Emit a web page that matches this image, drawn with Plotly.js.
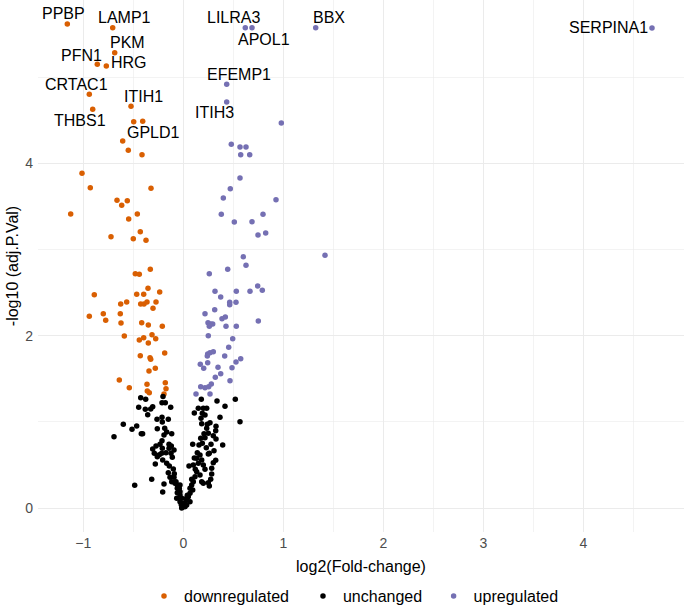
<!DOCTYPE html>
<html>
<head>
<meta charset="utf-8">
<script src="https://cdn.plot.ly/plotly-3.0.1.min.js"></script>
<style>html,body{margin:0;padding:0;background:#fff;}#chart{width:685px;height:607px;}</style>
</head>
<body>
<div id="chart"></div>
<script>
// ---- data ----
const downX = [-1.16,-0.706,-0.686,-0.86,-0.77,-0.94,-0.906,-0.523,-0.406,-0.496,-0.606,-0.55,-0.413,-1.013,-0.93,-0.323,-0.663,-0.56,-0.616,-1.126,-0.46,-0.546,-0.43,-0.723,-0.50,-0.373,-0.33,-0.48,-0.44,-0.353,-0.236,-0.89,-0.466,-0.396,-0.566,-0.626,-0.426,-0.393,-0.363,-0.273,-0.303,-0.94,-0.80,-0.63,-0.776,-0.623,-0.416,-0.35,-0.21,-0.59,-0.313,-0.396,-0.44,-0.276,-0.35,-0.43,-0.333,-0.326,-0.186,-0.28,-0.343,-0.64,-0.54,-0.363,-0.36,-0.34,-0.18,-0.173,-0.193];
const downY = [5.616,5.573,5.283,5.148,5.129,4.80,4.626,4.661,4.487,4.483,4.259,4.151,4.10,3.884,3.717,3.71,3.571,3.566,3.513,3.412,3.412,3.354,3.207,3.149,3.125,3.107,2.770,2.719,2.712,2.55,2.507,2.476,2.48,2.48,2.391,2.368,2.368,2.368,2.391,2.391,2.318,2.225,2.255,2.255,2.179,2.147,2.151,2.124,2.109,1.997,2.012,1.977,1.95,1.965,1.915,1.768,1.745,1.726,1.799,1.622,1.59,1.486,1.397,1.436,1.358,1.339,1.455,1.385,1.324];
const downGenes = ['PPBP','LAMP1','PKM','PFN1','HRG','CRTAC1','THBS1','ITIH1','GPLD1'];

const upX = [4.687,1.324,0.62,0.687,0.434,0.434,0.98,0.48,0.567,0.627,0.574,0.664,0.567,0.47,0.40,0.927,0.38,0.797,0.51,0.687,0.824,0.747,1.417,0.60,0.627,0.444,0.26,0.744,0.79,0.317,0.53,0.667,0.374,0.464,0.464,0.527,0.314,0.217,0.387,0.42,0.247,0.26,0.274,0.294,0.427,0.53,0.75,0.25,0.494,0.454,0.244,0.267,0.30,0.24,0.414,0.574,0.527,0.17,0.244,0.204,0.347,0.487,0.374,0.32,0.467,0.28,0.174,0.217,0.254,0.127,0.267];
const upY = [5.57,5.573,5.573,5.573,4.916,4.711,4.467,4.22,4.189,4.189,4.10,4.10,3.83,3.705,3.597,3.578,3.408,3.408,3.319,3.322,3.191,3.168,2.933,2.916,2.817,2.77,2.719,2.577,2.527,2.515,2.515,2.515,2.449,2.387,2.36,2.387,2.302,2.255,2.197,2.217,2.151,2.109,2.136,2.136,2.109,2.109,2.171,2.0,1.965,1.865,1.788,1.803,1.814,1.764,1.764,1.733,1.695,1.668,1.687,1.622,1.633,1.629,1.559,1.517,1.478,1.44,1.408,1.397,1.408,1.324,1.324];
const upGenes = ['SERPINA1','BBX','LILRA3','APOL1','EFEMP1','ITIH3'];

const noX = [-0.426,-0.376,-0.213,-0.18,-0.446,-0.38,-0.306,-0.326,-0.126,-0.356,-0.213,-0.263,-0.15,-0.21,-0.60,-0.466,-0.513,-0.26,-0.186,-0.166,-0.42,-0.693,-0.193,-0.116,-0.213,-0.143,-0.12,-0.233,-0.273,-0.306,-0.21,-0.143,-0.093,-0.29,-0.216,-0.203,
-0.26,-0.173,-0.123,-0.28,-0.206,-0.166,-0.14,-0.11,-0.10,-0.15,0.057,-0.316,-0.486,-0.193,-0.206,-0.133,-0.093,-0.116,-0.073,-0.06,-0.04,-0.06,-0.033,-0.016,-0.066,-0.033,0.0,0.017,-0.016,
0.14,0.167,0.134,0.184,0.25,0.307,0.30,0.284,0.10,0.15,0.20,0.217,0.284,0.274,0.25,0.184,0.20,0.26,0.134,0.117,0.10,0.084,0.067,0.094,0.067,0.05,0.034,0.017,0.0,0.034,0.067,0.167,0.084,-0.033,-0.033,
0.18,0.337,0.52,0.417,0.15,0.20,0.234,0.11,0.19,0.217,0.367,0.567,0.177,0.184,0.24,0.267,0.327,0.324,0.234,0.25,0.30,0.207,0.174,0.217,0.327,0.094,0.157,0.19,0.277,0.394,0.26,0.324,-0.083,-0.06,
-0.407,-0.045,0.04,-0.02,0.025,0.12,-0.09,0.11,-0.24,0.23];
const noY = [1.281,1.262,1.223,1.223,1.169,1.146,1.176,1.150,1.169,1.084,1.053,1.030,1.030,0.999,0.972,0.952,0.914,0.921,0.926,0.883,0.863,0.828,0.848,0.863,0.782,0.740,0.720,0.740,0.720,0.686,0.694,0.694,0.674,0.636,0.636,1.295,
0.596,0.643,0.636,0.512,0.558,0.520,0.488,0.589,0.454,0.411,0.488,0.334,0.265,0.280,0.187,0.357,0.357,0.306,0.306,0.268,0.230,0.179,0.152,0.114,0.114,0.074,0.056,0.016,0.001,
0.643,0.616,0.578,0.558,0.628,0.666,0.527,0.462,0.50,0.520,0.50,0.450,0.396,0.334,0.295,0.306,0.288,0.256,0.422,0.364,0.306,0.268,0.230,0.210,0.172,0.132,0.094,0.056,0.016,0.036,0.074,0.384,0.334,0.268,0.190,
1.262,1.242,1.262,1.181,1.158,1.158,1.158,1.103,1.100,1.080,1.053,1.002,1.042,0.979,0.972,0.991,0.949,0.898,0.926,0.868,0.840,0.863,0.810,0.817,0.802,0.740,0.732,0.752,0.740,0.732,0.636,0.555,0.289,0.230,
0.863,0.21,0.15,0.04,0.11,0.45,0.40,0.58,0.62,0.70];

const groupNames = ['downregulated','unchanged','upregulated'];
const xTitle = 'log2(Fold-change)';
const yTitle = '-log10 (adj.P.Val)';

// ---- style ----
const FONT = 'Liberation Sans, Arial, Helvetica, sans-serif';
const colors = {downregulated:'#d95f02', unchanged:'#000000', upregulated:'#7570b3'};
const legendIds = ['legend','legend2','legend3'];
const legendLeft = [0.2102, 0.4423, 0.6330];   // container fractions (layout only)
const labelOffsets = {
  PPBP:[-4,10], LAMP1:[12,10], PKM:[13,10], PFN1:[-16,9], HRG:[23,3], CRTAC1:[-13,10],
  THBS1:[-13,-11], ITIH1:[12,10], GPLD1:[11,-11],
  SERPINA1:[-44,0], BBX:[13,10], LILRA3:[-12,10], APOL1:[12,-12], EFEMP1:[12,10], ITIH3:[-12,-11]
};

function mk(i, x, y){
  const name = groupNames[i];
  return {type:'scatter', mode:'markers', name:name, x:x, y:y, legend:legendIds[i],
    marker:{color:colors[name], size:5.5, line:{width:0}}, hoverinfo:'x+y'};
}
const traces = [mk(0, downX, downY), mk(1, noX, noY), mk(2, upX, upY)];

const annotations = [];
function addLabels(genes, xs, ys){
  genes.forEach((g,i)=>{
    const off = labelOffsets[g] || [0,10];
    annotations.push({x:xs[i], y:ys[i], xref:'x', yref:'y', text:g, showarrow:false,
      xshift:off[0], yshift:off[1], xanchor:'center', yanchor:'middle',
      font:{family:FONT, size:16, color:'#000'}});
  });
}
addLabels(downGenes, downX, downY);
addLabels(upGenes, upX, upY);

function legendSpec(i){
  return {orientation:'h', x:legendLeft[i], xref:'container', xanchor:'left',
    y:0.018, yref:'container', yanchor:'middle', bgcolor:'rgba(0,0,0,0)', borderwidth:0,
    font:{family:FONT, size:16, color:'#000'}};
}

const gridCol = '#ebebeb';
const layout = {
  width:685, height:607,
  margin:{l:38, r:1, t:0, b:75},
  paper_bgcolor:'#fff', plot_bgcolor:'#fff',
  font:{family:FONT, size:14, color:'#000'},
  showlegend:true,
  legend:legendSpec(0), legend2:legendSpec(1), legend3:legendSpec(2),
  xaxis:{range:[-1.453, 5.007], tick0:0, dtick:1, showgrid:true, gridcolor:gridCol, gridwidth:1.1,
    zeroline:false, showline:false, ticks:'', ticklabelstandoff:1,
    tickfont:{family:FONT, size:14, color:'#4d4d4d'},
    minor:{dtick:0.5, tick0:0, showgrid:true, gridcolor:gridCol, gridwidth:0.6},
    title:{text:xTitle, font:{family:FONT, size:16, color:'#000'}, standoff:10}},
  yaxis:{range:[-0.277, 5.894], tick0:0, dtick:2, showgrid:true, gridcolor:gridCol, gridwidth:1.1,
    zeroline:false, showline:false, ticks:'', ticklabelstandoff:4,
    tickfont:{family:FONT, size:14, color:'#4d4d4d'},
    minor:{dtick:1, tick0:0, showgrid:true, gridcolor:gridCol, gridwidth:0.6},
    title:{text:yTitle, font:{family:FONT, size:16, color:'#000'}, standoff:2}},
  annotations:annotations
};
Plotly.newPlot('chart', traces, layout, {displayModeBar:false, staticPlot:true});
</script>
</body>
</html>
